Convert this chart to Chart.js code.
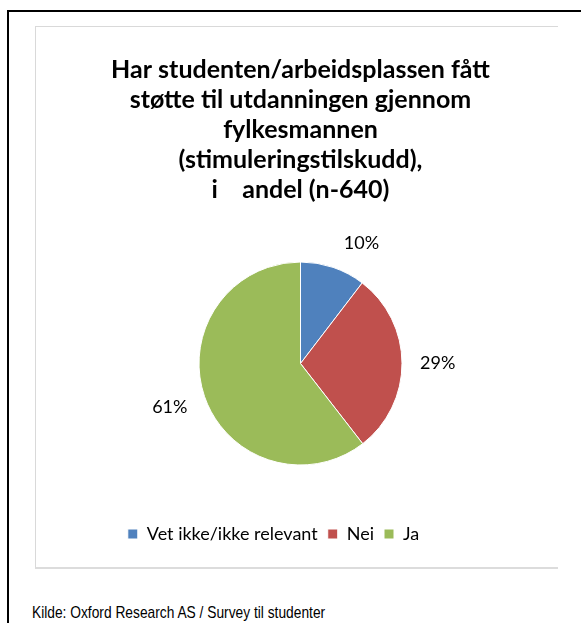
<!DOCTYPE html>
<html>
<head>
<meta charset="utf-8">
<script src="https://cdn.jsdelivr.net/npm/chart.js@4.4.1/dist/chart.umd.min.js"></script>
<style>
  html, body { margin: 0; padding: 0; background: #fff; width: 581px; height: 623px; overflow: hidden; }
  #frame { position: absolute; left: 7px; top: 10px; width: 700px; height: 700px;
           border-left: 2px solid #000; border-top: 2px solid #000; }
  #box { position: absolute; left: 35px; top: 26px; width: 523px; height: 545px; }
  #boxBorder { position: absolute; left: 35px; top: 26px; width: 523px; height: 543px;
               border-top: 1px solid #d9d9d9; border-left: 1px solid #d9d9d9; border-bottom: 2px solid #dcdcdc;
               box-sizing: border-box; pointer-events: none; }
  canvas { position: absolute; left: 0; top: 0; }
  #source { position: absolute; left: 32px; top: 603px; font-family: "Liberation Sans", Arial, sans-serif;
            font-size: 17px; color: #000; white-space: nowrap; transform: scaleX(0.81); transform-origin: 0 0; }
</style>
</head>
<body>
<div id="frame"></div>
<div id="box"><canvas id="c" width="523" height="545"></canvas></div>
<div id="boxBorder"></div>
<div id="source">Kilde: Oxford Research AS / Survey til studenter</div>
<script>
const categories = ["Vet ikke/ikke relevant", "Nei", "Ja"];
const shares = [10.4, 29.1, 60.5];
const shareLabels = ["10%", "29%", "61%"];
const titleLines = ["Har studenten/arbeidsplassen fått", "støtte til utdanningen gjennom", "fylkesmannen", "(stimuleringstilskudd),", "i    andel (n-640)"];
const colors = ["#4F81BD", "#C0504D", "#9BBB59"];

const FONT = "Lato, 'Open Sans', sans-serif";

const labelPlugin = {
  id: 'sliceLabels',
  afterDatasetsDraw(chart) {
    const ctx = chart.ctx;
    const meta = chart.getDatasetMeta(0);
    ctx.save();
    ctx.font = "18px " + FONT;
    ctx.fillStyle = "#000";
    ctx.textAlign = "center";
    ctx.textBaseline = "middle";
    meta.data.forEach((arc, i) => {
      const p = arc.getProps(['x', 'y', 'startAngle', 'endAngle', 'outerRadius'], true);
      const mid = (p.startAngle + p.endAngle) / 2;
      const dx = Math.cos(mid), dy = Math.sin(mid);
      const r = p.outerRadius + 18;
      const ax = p.x + r * dx, ay = p.y + r * dy;
      const txt = shareLabels[i];
      const hw = ctx.measureText(txt).width / 2, hh = 7;
      const clamp = v => Math.max(-1, Math.min(1, v));
      const cx = ax + hw * clamp(dx * 4) + (dy < -0.5 ? 5 : 0);
      const cy = ay + hh * clamp(dy * 2);
      ctx.fillText(txt, cx, cy);
    });
    ctx.restore();
  }
};

const legendShift = {
  id: 'legendShift',
  afterLayout(chart) {
    const lg = chart.legend;
    if (lg) { lg.left -= 27; lg.right -= 27; }
  }
};

new Chart(document.getElementById('c'), {
  type: 'pie',
  data: {
    labels: categories,
    datasets: [{
      data: shares,
      backgroundColor: colors,
      borderColor: '#ffffff',
      borderWidth: 1,
      radius: 101.5
    }]
  },
  options: {
    responsive: false,
    animation: false,
    layout: { padding: { left: 8, right: 0, top: 0, bottom: 18 } },
    plugins: {
      title: {
        display: true,
        text: titleLines,
        color: '#000',
        font: { family: FONT, size: 25, weight: 'bold', lineHeight: 30 / 25 },
        padding: { top: 29, bottom: 7 }
      },
      legend: {
        display: true,
        position: 'bottom',
        labels: {
          color: '#000',
          font: { family: FONT, size: 18 },
          boxWidth: 10,
          boxHeight: 10,
          padding: 10
        }
      },
      tooltip: { enabled: false }
    }
  },
  plugins: [labelPlugin, legendShift]
});
</script>
</body>
</html>
